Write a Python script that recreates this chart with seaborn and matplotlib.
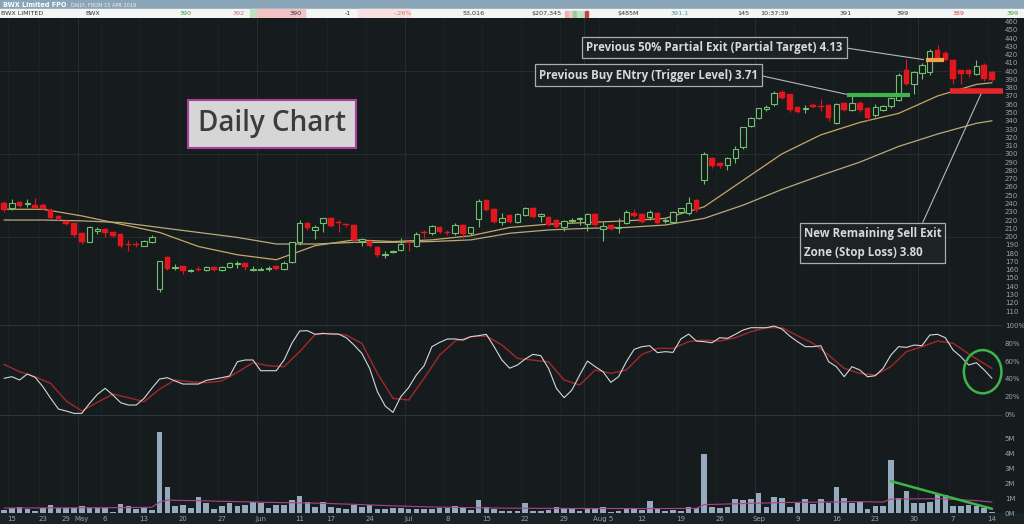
import matplotlib
matplotlib.use("Agg")
import numpy as np
import matplotlib.pyplot as plt
from matplotlib.patches import Rectangle, Ellipse
import seaborn as sns

# ---- data (prices in cents) ----
opens = [241, 234, 242, 239, 238, 238, 232, 225, 219, 216, 204, 194, 207, 209, 205, 203, 191, 191, 189, 194,
         136, 175, 162, 164, 158, 161, 159, 163, 159, 163, 167, 168, 160, 160, 161, 164, 161, 169, 193, 216,
         208, 217, 223, 218, 215, 214, 195, 195, 187, 178, 181, 184, 193, 189, 205, 204, 212, 205, 204, 214,
         204, 221, 244, 233, 218, 226, 218, 226, 235, 225, 224, 220, 212, 219, 221, 215, 227, 209, 214, 210,
         217, 229, 227, 224, 229, 219, 218, 230, 228, 244, 269, 295, 289, 287, 295, 308, 334, 343, 354, 360,
         375, 372, 357, 354, 359, 358, 359, 337, 361, 353, 362, 355, 347, 353, 358, 365, 402, 385, 398, 399,
         426, 422, 414, 401, 401, 397, 407, 399]
highs = [243, 246, 243, 246, 247, 241, 234, 226, 220, 217, 205, 213, 212, 210, 206, 204, 196, 195, 196, 202,
         171, 176, 167, 165, 161, 164, 164, 164, 164, 169, 170, 169, 164, 163, 164, 166, 170, 194, 220, 218,
         214, 223, 224, 220, 216, 215, 198, 196, 188, 182, 184, 198, 195, 205, 208, 214, 213, 208, 216, 215,
         212, 246, 245, 234, 228, 227, 229, 236, 236, 229, 225, 221, 220, 223, 224, 229, 228, 218, 215, 222,
         232, 233, 228, 232, 230, 222, 231, 235, 248, 245, 302, 296, 290, 296, 309, 333, 345, 356, 359, 376,
         377, 373, 358, 359, 361, 366, 360, 362, 363, 370, 364, 357, 360, 359, 369, 398, 415, 400, 410, 427,
         432, 424, 415, 402, 403, 413, 410, 400]
lows = [230, 232, 236, 236, 234, 232, 222, 219, 214, 200, 191, 193, 203, 200, 200, 186, 183, 187, 188, 192,
        133, 159, 159, 155, 157, 158, 158, 158, 158, 162, 162, 160, 158, 159, 158, 159, 159, 168, 190, 208,
        197, 206, 212, 206, 212, 194, 189, 187, 175, 174, 180, 182, 182, 187, 198, 202, 204, 202, 202, 198,
        202, 212, 231, 216, 214, 217, 216, 225, 223, 218, 213, 209, 207, 217, 214, 207, 213, 195, 208, 204,
        215, 224, 217, 220, 215, 217, 217, 229, 226, 230, 264, 283, 283, 280, 289, 306, 333, 342, 352, 358,
        366, 351, 350, 349, 356, 352, 340, 336, 352, 352, 351, 340, 345, 352, 356, 364, 383, 373, 390, 395,
        414, 412, 385, 385, 393, 395, 388, 388]
closes = [232, 240, 237, 240, 235, 233, 223, 221, 215, 202, 193, 211, 209, 204, 201, 188, 190, 190, 195, 199,
          170, 161, 163, 158, 160, 160, 163, 160, 163, 168, 168, 163, 161, 161, 162, 161, 168, 193, 217, 210,
          212, 222, 213, 216, 214, 196, 197, 188, 178, 179, 182, 191, 192, 203, 204, 213, 206, 204, 214, 203,
          211, 243, 232, 218, 223, 218, 227, 235, 224, 227, 214, 211, 219, 220, 222, 227, 214, 213, 209, 211,
          230, 225, 218, 230, 216, 220, 230, 234, 241, 232, 300, 285, 285, 295, 306, 332, 343, 355, 357, 374,
          368, 353, 351, 356, 357, 357, 343, 360, 353, 362, 353, 343, 357, 358, 367, 395, 385, 399, 408, 425,
          416, 414, 391, 397, 397, 406, 390, 389]
volume_m = [0.22, 0.33, 0.44, 0.26, 0.18, 0.38, 0.53, 0.33, 0.33, 0.38, 0.49, 0.38, 0.33, 0.33, 0.11, 0.62,
            0.49, 0.31, 0.38, 0.22, 5.44, 1.73, 0.49, 0.55, 0.33, 1.06, 0.71, 0.26, 0.49, 0.71, 0.49, 0.55,
            0.75, 0.66, 0.38, 0.55, 0.55, 0.89, 1.18, 0.73, 0.44, 0.73, 0.44, 0.38, 0.26, 0.58, 0.40, 0.55,
            0.31, 0.31, 0.38, 0.33, 0.31, 0.29, 0.31, 0.31, 0.33, 0.38, 0.49, 0.40, 0.22, 0.89, 0.44, 0.26,
            0.18, 0.15, 0.13, 0.66, 0.18, 0.18, 0.22, 0.40, 0.33, 0.31, 0.18, 0.26, 0.31, 0.40, 0.11, 0.18,
            0.38, 0.26, 0.22, 0.82, 0.33, 0.18, 0.22, 0.18, 0.40, 0.35, 3.95, 0.40, 0.33, 0.42, 0.95, 0.89,
            0.93, 1.33, 0.44, 1.11, 1.00, 0.40, 0.71, 0.95, 0.62, 0.93, 0.71, 1.78, 1.00, 0.71, 0.78, 0.26,
            0.49, 0.49, 3.55, 1.00, 1.49, 0.66, 0.71, 0.78, 1.29, 1.24, 0.49, 0.49, 0.55, 0.49, 0.38, 0.11]
stoch_k = [40.7, 42.5, 38.8, 45.5, 41.8, 31.3, 18.3, 6.3, 4.1, 1.5, 1.5, 12.7, 22.7, 29.5, 22.0, 13.4,
           10.8, 10.8, 18.3, 29.5, 39.9, 41.4, 37.7, 34.3, 34.3, 34.3, 38.4, 39.9, 41.4, 43.3, 59.3, 61.2,
           61.2, 49.2, 49.2, 49.2, 61.2, 79.8, 93.6, 94.0, 89.9, 91.0, 90.2, 90.2, 86.1, 77.9, 68.6, 51.8,
           25.7, 9.7, 2.6, 20.1, 30.2, 44.4, 54.8, 76.1, 80.9, 84.7, 84.7, 83.5, 87.3, 88.4, 89.9, 76.1,
           61.2, 52.0, 55.6, 62.3, 67.5, 66.0, 51.8, 29.5, 19.0, 27.6, 44.4, 60.0, 53.7, 48.1, 36.2, 42.5,
           59.3, 73.1, 76.1, 77.2, 69.4, 70.5, 69.7, 84.7, 90.2, 82.4, 81.7, 80.5, 86.1, 85.4, 89.9, 94.7,
           97.3, 97.3, 97.3, 99.2, 95.8, 88.0, 81.7, 76.1, 76.1, 77.2, 59.3, 53.7, 42.5, 53.7, 50.0, 42.5,
           43.6, 51.8, 66.7, 76.1, 75.3, 77.9, 77.2, 89.1, 89.9, 86.1, 72.3, 64.9, 55.6, 58.2, 50.0, 40.7]
stoch_d_idx = [0, 2, 4, 6, 8, 10, 12, 14, 16, 18, 20, 22, 24, 26, 28, 30, 32, 34, 36, 38, 40, 42, 44, 46,
               48, 50, 52, 54, 56, 58, 60, 62, 64, 66, 68, 70, 72, 74, 76, 78, 80, 82, 84, 86, 88, 90, 92,
               94, 96, 98, 100, 102, 104, 106, 108, 110, 112, 114, 116, 118, 120, 122, 124, 126, 127]
stoch_d = [56.3, 48.1, 42.5, 35.0, 15.3, 4.1, 13.8, 23.1, 19.0, 14.5, 28.7, 38.8, 36.9, 35.8, 37.7, 47.4,
           58.2, 54.8, 53.7, 70.5, 89.9, 91.0, 89.1, 79.8, 46.2, 18.3, 16.4, 40.7, 66.7, 82.4, 87.3, 88.0,
           78.0, 63.0, 61.0, 59.0, 38.8, 33.2, 50.0, 46.2, 50.0, 67.5, 74.2, 74.2, 81.7, 83.5, 82.4, 86.1,
           92.9, 97.3, 97.3, 88.4, 79.8, 66.7, 51.8, 46.2, 44.4, 53.7, 70.5, 76.1, 82.4, 80.0, 68.0, 57.0,
           51.8]
ma_idx = [0, 5, 10, 15, 20, 25, 30, 35, 40, 45, 50, 55, 60, 65, 70, 75, 80, 85, 90, 95, 100, 105, 110,
          115, 120, 125, 127]
ma_fast = [233, 233, 225, 215, 205, 188, 178, 172, 189, 196, 194, 196, 201, 211, 215, 217, 219, 222, 236,
           268, 300, 323, 338, 349, 370, 384, 386]
ma_slow = [220, 220, 219, 217, 211, 205, 199, 191, 191, 193, 193, 194, 196, 204, 208, 210, 211, 214, 222,
           238, 257, 274, 290, 309, 324, 337, 340]
vol_ma_idx = [0, 5, 10, 15, 19, 20, 21, 25, 30, 35, 40, 45, 50, 55, 60, 65, 70, 75, 80, 85, 89, 90, 95,
              100, 105, 110, 113, 114, 120, 125, 127]
vol_ma = [0.35, 0.36, 0.37, 0.38, 0.40, 0.75, 0.88, 0.84, 0.78, 0.72, 0.68, 0.60, 0.50, 0.42, 0.38, 0.34,
          0.33, 0.32, 0.32, 0.32, 0.33, 0.58, 0.65, 0.72, 0.75, 0.78, 0.75, 0.95, 0.98, 0.85, 0.75]
vol_trend_idx = [114, 127]
vol_trend = [2.15, 0.30]

date_tick_idx = [1, 5, 8, 10, 13, 18, 23, 28, 33, 38, 42, 47, 52, 57, 62, 67, 72, 77, 82, 87, 92, 97,
                 102, 107, 112, 117, 122, 127]
date_tick_labels = ["15", "23", "29", "May", "6", "13", "20", "27", "Jun", "11", "17", "24", "Jul", "8",
                    "15", "22", "29", "Aug 5", "12", "19", "26", "Sep", "9", "16", "23", "30", "7", "14"]
month_idx = [10, 33, 52, 75, 97, 118]
week_idx = [1, 5, 8, 13, 18, 23, 28, 33, 38, 42, 47, 52, 57, 62, 67, 72, 77, 82, 87, 92, 97, 102, 107,
            112, 117, 122, 127]

entry_level, target_level, stop_level = 371, 413, 376

# ---- style ----
sns.set_style("dark")
plt.rcParams["font.family"] = ["DejaVu Sans"]
BG = "#161c1e"
GRID = "#252d30"
GRID2 = "#1d2426"
TXT = "#9aa3a8"
UP = "#6fbf6f"
DN = "#e3161d"
GREEN = "#3db54a"

W, H = 1024, 524
fig = plt.figure(figsize=(W / 100, H / 100), dpi=100, facecolor=BG)


def box(x0, y0, x1, y1):
    return [x0 / W, 1 - y1 / H, (x1 - x0) / W, (y1 - y0) / H]


ax_p = fig.add_axes(box(0, 18, 1002, 322))
ax_s = fig.add_axes(box(0, 322, 1002, 418))
ax_v = fig.add_axes(box(0, 418, 1002, 513.3))
xlim = (-4 / 7.78, 127 + 10 / 7.78)

for ax in (ax_p, ax_s, ax_v):
    ax.set_facecolor(BG)
    ax.set_xlim(*xlim)
    for s in ax.spines.values():
        s.set_visible(False)
    ax.yaxis.tick_right()
    ax.tick_params(axis="y", length=0, pad=2, labelsize=5, labelcolor=TXT)
    ax.tick_params(axis="x", length=0)
    ax.grid(False)
    for w in week_idx:
        ax.axvline(w - 0.5, color=GRID2, lw=0.6, zorder=0)
    for m in month_idx:
        ax.axvline(m - 0.5, color=GRID, lw=0.7, zorder=0)
    ax.set_xlabel("")
    ax.set_ylabel("")

# ---- price panel ----
idx = np.arange(len(closes))
o = np.array(opens, float)
c = np.array(closes, float)
up = c >= o
ax_p.set_ylim(96.7, 464.3)
ax_p.set_yticks(np.arange(110, 461, 10))
ax_p.set_xticks([])
for lvl in (200, 300, 400):
    ax_p.axhline(lvl, color=GRID, lw=0.7, zorder=0)

ax_p.vlines(idx, lows, highs, colors=np.where(up, UP, DN), lw=0.8, zorder=2)
body_up = np.maximum(c[up] - o[up], 0.8)
ax_p.bar(idx[up], body_up, bottom=o[up], width=0.7, facecolor=BG, edgecolor=UP, lw=0.8, zorder=3)
body_dn = np.maximum(o[~up] - c[~up], 0.8)
ax_p.bar(idx[~up], body_dn, bottom=c[~up], width=0.72, color=DN, edgecolor=DN, lw=0.3, zorder=3)

sns.lineplot(x=ma_idx, y=ma_fast, ax=ax_p, color="#c9a765", lw=0.9, estimator=None, sort=False, zorder=1)
sns.lineplot(x=ma_idx, y=ma_slow, ax=ax_p, color="#b9aa7c", lw=0.9, estimator=None, sort=False, zorder=1)

ax_p.plot([108.3, 116.4], [entry_level] * 2, color=GREEN, lw=3, solid_capstyle="butt", zorder=4)
ax_p.plot([118.5, 120.8], [target_level] * 2, color="#f5a04a", lw=3, solid_capstyle="butt", zorder=4)
ax_p.plot([121.6, 128.4], [stop_level] * 2, color="#e8262a", lw=4, solid_capstyle="butt", zorder=4,
          clip_on=False)

ax_p.text(272, 524 - 124, "Daily Chart", transform=None, ha="center", va="center",
          fontsize=20, fontweight="semibold", family=["Open Sans", "DejaVu Sans"], color="#3c3c3c",
          bbox=dict(boxstyle="square,pad=0.35", fc="#d6d6d6", ec="#a3419f", lw=1.5))

note_kw = dict(fontsize=8.3, fontweight="bold", family=["Open Sans", "DejaVu Sans"], color="#d8d8d8",
               ha="center", va="center", textcoords="figure pixels")
bx = dict(boxstyle="square,pad=0.35", fc="#1d2325", ec="#a9aeb0", lw=0.9)
ax_p.annotate("Previous 50% Partial Exit (Partial Target) 4.13", xy=(118.2, 414),
              xytext=(714.5, 524 - 47.5), bbox=bx,
              arrowprops=dict(arrowstyle="-", color="#b4b8ba", lw=0.8, relpos=(1, 0.5),
                              shrinkA=0, shrinkB=0), **note_kw)
ax_p.annotate("Previous Buy ENtry (Trigger Level) 3.71", xy=(108.8, 371),
              xytext=(648.5, 524 - 75), bbox=bx,
              arrowprops=dict(arrowstyle="-", color="#b4b8ba", lw=0.8, relpos=(1, 0.5),
                              shrinkA=0, shrinkB=0), **note_kw)
ax_p.annotate("New Remaining Sell Exit\nZone (Stop Loss) 3.80", xy=(125.7, 375),
              xytext=(872.5, 524 - 243), bbox=bx, multialignment="left", linespacing=1.6,
              arrowprops=dict(arrowstyle="-", color="#b4b8ba", lw=0.8, relpos=(0.85, 1),
                              shrinkA=0, shrinkB=0), **note_kw)

# ---- stochastic panel ----
ax_s.set_ylim(-3.7, 103.7)
ax_s.set_yticks([0, 20, 40, 60, 80, 100])
ax_s.set_yticklabels(["0%", "20%", "40%", "60%", "80%", "100%"])
ax_s.set_xticks([])
for lvl in (0, 100):
    ax_s.axhline(lvl, color="#2c3538", lw=0.8, zorder=0)
sns.lineplot(x=idx, y=stoch_k, ax=ax_s, color="#d3d7d9", lw=0.8, estimator=None, sort=False, zorder=3)
sns.lineplot(x=stoch_d_idx, y=stoch_d, ax=ax_s, color="#a3282b", lw=1.0, estimator=None, sort=False,
             zorder=2)
ax_s.add_patch(Ellipse((125.8, 48.1), 4.83, 48.4, fill=False, ec=GREEN, lw=1.8, clip_on=False, zorder=5))

# ---- volume panel ----
ax_v.set_ylim(0, 6.37)
ax_v.set_yticks([0, 1, 2, 3, 4, 5])
ax_v.set_yticklabels(["0M", "1M", "2M", "3M", "4M", "5M"])
ax_v.bar(idx, volume_m, width=0.72, color="#96aabd", edgecolor="none", lw=0, zorder=2)
sns.lineplot(x=vol_ma_idx, y=vol_ma, ax=ax_v, color="#b0408c", lw=0.8, estimator=None, sort=False, zorder=3)
sns.lineplot(x=vol_trend_idx, y=vol_trend, ax=ax_v, color=GREEN, lw=1.8, estimator=None, sort=False,
             zorder=4)
ax_v.set_xticks(date_tick_idx)
ax_v.set_xticklabels(date_tick_labels)
ax_v.tick_params(axis="x", labelsize=5, labelcolor=TXT, pad=2)

fig.patches.append(Rectangle((0, 0), 1, 10.7 / H, transform=fig.transFigure, color="#1b2225", zorder=-1))

# ---- header ----
ax_h = fig.add_axes(box(0, 0, 1024, 18))
ax_h.set_xlim(0, 1024)
ax_h.set_ylim(18, 0)
ax_h.axis("off")
ax_h.add_patch(Rectangle((0, 0), 1024, 9, color="#8aa5b8"))
ax_h.add_patch(Rectangle((0, 9), 1024, 9, color="#f3f4f4"))
ax_h.add_patch(Rectangle((250, 9), 7, 9, color="#bfe3bf"))
ax_h.add_patch(Rectangle((257, 9), 48, 9, color="#f2c3c4"))
ax_h.add_patch(Rectangle((358, 9), 52, 9, color="#f8e0e0"))
for bx0, bc in [(565, "#f0b0b0"), (569, "#f0c8c8"), (573, "#8fd08f"), (577, "#bfe3bf"),
                (581, "#bfe3bf"), (585, "#d04040")]:
    ax_h.add_patch(Rectangle((bx0, 11), 2.5, 6, color=bc))
ax_h.text(3, 4.7, "BWX Limited FPO", fontsize=4.7, fontweight="bold", color="white", va="center")
ax_h.text(71, 4.9, "DAILY, FROM 15 APR 2019", fontsize=3.6, color="#eef2f5", va="center")
info = [(1, "BWX LIMITED", "#333333", "left"), (85, "BWX", "#333333", "left"),
        (192, "390", "#3a9a3a", "right"), (245, "392", "#d07070", "right"),
        (302, "390", "#333333", "right"), (351, "-1", "#333333", "right"),
        (412, "-.26%", "#d07070", "right"), (485, "53,016", "#333333", "right"),
        (562, "$207,345", "#333333", "right"), (639, "$485M", "#333333", "right"),
        (689, "391.1", "#4a9aa0", "right"), (749, "145", "#333333", "right"),
        (789, "10:37:39", "#333333", "right"), (852, "391", "#333333", "right"),
        (909, "399", "#333333", "right"), (965, "389", "#d04545", "right"),
        (1019, "399", "#3a9a3a", "right")]
for x, t, col, ha in info:
    ax_h.text(x, 13.6, t, fontsize=4.6, color=col, ha=ha, va="center")

fig.savefig("out.png", dpi=100, facecolor=BG)
